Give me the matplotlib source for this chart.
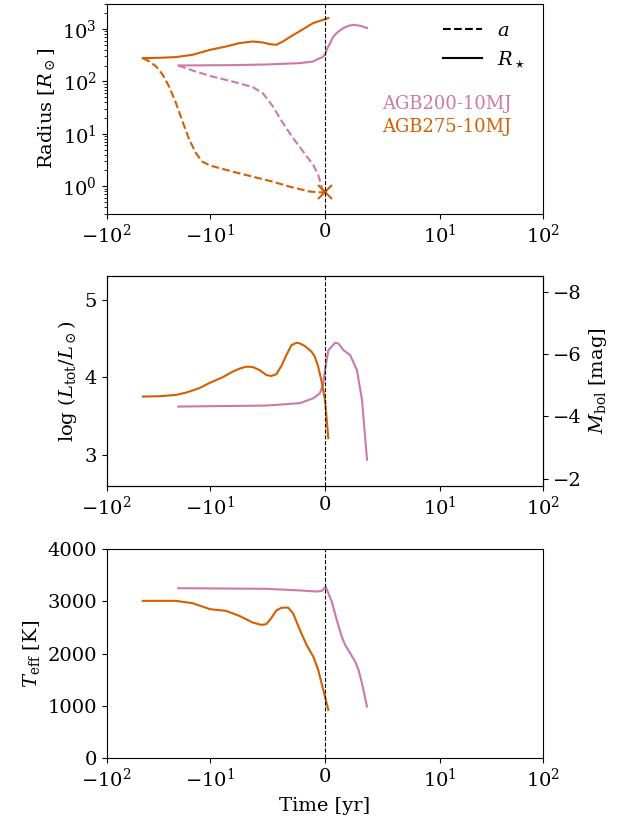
import numpy as np
import matplotlib
matplotlib.use('Agg')
import matplotlib.pyplot as plt
from matplotlib.lines import Line2D
from matplotlib.ticker import NullLocator

plt.rcParams['font.family'] = 'serif'
plt.rcParams['font.serif'] = ['DejaVu Serif']
plt.rcParams['mathtext.fontset'] = 'dejavuserif'
plt.rcParams['font.size'] = 14

pink = '#CC79A7'
orange = '#D55E00'
names = ['AGB200-10MJ', 'AGB275-10MJ']

# radius panel (time in yr, radius in Rsun)
t_rs_200 = [-20.3, -8.04, -5.11, -2.19, -1.02, -0.44, -0.29, 0.0, 0.15, 0.29, 0.59, 0.73, 1.17, 1.61,
            2.04, 2.48, 3.07, 3.66]
rs_200 = [202, 205, 211, 224, 241, 279, 285, 323, 402, 465, 625, 723, 901, 1046, 1157, 1205, 1157, 1046]
t_a_200 = [-20.3, -14.8, -9.8, -8.04, -6.29, -5.41, -4.53, -3.66, -2.78, -1.90, -1.02, -0.59, -0.29, -0.15]
a_200 = [202, 162, 124, 99.7, 78, 59.8, 33.2, 16, 8.3, 4.58, 2.55, 1.64, 0.98, 0.79]

t_rs_275 = [-44.8, -30.9, -21.4, -14.8, -10, -8.62, -7.46, -6.29, -5.41, -4.82, -4.24, -3.66, -3.07,
            -2.48, -1.90, -1.03, -0.15, 0.29]
rs_275 = [279, 283, 292, 323, 402, 465, 540, 580, 555, 517, 501, 580, 703, 839, 1000, 1303, 1506, 1622]
t_a_275 = [-44.8, -38.6, -33.3, -28.7, -24.8, -21.4, -18.5, -15.9, -13.7, -11.9, -10, -8.04, -6.29,
           -4.53, -3.07, -1.32, 0.0]
a_275 = [279, 241, 193, 134, 78, 38.5, 17.2, 7.7, 4.27, 2.95, 2.48, 1.90, 1.52, 1.22, 0.98, 0.79, 0.755]
merger_t, merger_r = 0.0, 0.77

# luminosity panel
t_L_200 = [-20.3, -10, -5.11, -2.19, -1.02, -0.44, -0.15, 0.0, 0.29, 0.88, 1.17, 1.61, 2.19, 2.78, 3.22, 3.66]
L_200 = [3.623, 3.628, 3.636, 3.667, 3.73, 3.795, 3.92, 4.09, 4.35, 4.444, 4.436, 4.35, 4.286, 4.094, 3.71, 2.94]
t_L_275 = [-44.8, -30.9, -21.4, -17.1, -12.8, -10, -8.92, -8.04, -7.46, -6.87, -6.29, -5.70, -5.11, -4.68,
           -4.24, -3.80, -3.36, -2.92, -2.48, -2.19, -1.75, -1.17, -0.88, -0.59, -0.29, 0.0, 0.29]
L_275 = [3.752, 3.756, 3.773, 3.803, 3.859, 3.931, 4.0, 4.073, 4.111, 4.137, 4.133, 4.094, 4.03, 4.017,
         4.039, 4.146, 4.287, 4.415, 4.445, 4.437, 4.403, 4.33, 4.266, 4.137, 3.944, 3.709, 3.216]

# effective temperature panel
t_T_200 = [-20.3, -5.11, -2.19, -0.73, -0.29, -0.09, 0.09, 0.29, 0.59, 1.02, 1.46, 1.75, 2.19, 2.63,
           2.92, 3.22, 3.66]
T_200 = [3248, 3236, 3205, 3184, 3197, 3241, 3261, 3153, 2993, 2643, 2324, 2165, 2007, 1846, 1688, 1433, 986]
t_T_275 = [-44.8, -21.4, -14.8, -10, -8.62, -7.46, -6.29, -5.55, -5.11, -4.68, -4.24, -3.80, -3.22,
           -2.78, -2.19, -1.61, -1.02, -0.59, -0.15, 0.29]
T_275 = [3006, 3006, 2962, 2847, 2815, 2720, 2592, 2548, 2561, 2675, 2822, 2873, 2879, 2771, 2452,
         2166, 1943, 1688, 1306, 924]

Msun = 4.74
lw = 1.5

fig, axs = plt.subplots(3, 1, figsize=(6.28, 8.22))
fig.subplots_adjust(left=0.170, right=0.865, top=0.995, bottom=0.0775, hspace=0.30)

ax = axs[0]
ax.plot(t_rs_200, rs_200, '-', color=pink, lw=lw)
ax.plot(t_a_200, a_200, '--', color=pink, lw=lw)
ax.plot(t_rs_275, rs_275, '-', color=orange, lw=lw)
ax.plot(t_a_275, a_275, '--', color=orange, lw=lw)
ax.plot(merger_t, merger_r, 'x', color=orange, ms=10, mew=1.5)
ax.set_yscale('log')
ax.set_ylim(0.3, 3000)
ax.set_ylabel(r'Radius [$R_\odot$]')
handles = [Line2D([], [], color='k', ls='--', lw=lw, label='$a$'),
           Line2D([], [], color='k', ls='-', lw=lw, label=r'$R_\star$')]
ax.legend(handles=handles, loc='upper right', frameon=False)
ax.text(0.779, 0.525, names[0], color=pink, fontsize=13, transform=ax.transAxes, ha='center', va='center')
ax.text(0.779, 0.413, names[1], color=orange, fontsize=13, transform=ax.transAxes, ha='center', va='center')

ax = axs[1]
ax.plot(t_L_200, L_200, '-', color=pink, lw=lw)
ax.plot(t_L_275, L_275, '-', color=orange, lw=lw)
ax.set_ylim(2.6, 5.3)
ax.set_yticks([3, 4, 5])
ax.set_ylabel(r'$\log\,(L_{\rm tot}/L_\odot)$')
ax2 = ax.twinx()
ax2.set_ylim(Msun - 2.5 * 2.6, Msun - 2.5 * 5.3)
ax2.set_yticks([-8, -6, -4, -2])
ax2.set_ylabel(r'$M_{\rm bol}$ [mag]')

ax = axs[2]
ax.plot(t_T_200, T_200, '-', color=pink, lw=lw)
ax.plot(t_T_275, T_275, '-', color=orange, lw=lw)
ax.set_ylim(0, 4000)
ax.set_ylabel(r'$T_{\rm eff}$ [K]')
ax.set_xlabel('Time [yr]')

for ax in axs:
    ax.set_xscale('symlog', linthresh=10)
    ax.set_xlim(-100, 100)
    ax.set_xticks([-100, -10, 0, 10, 100])
    ax.xaxis.set_minor_locator(NullLocator())
    ax.axvline(0, color='k', ls='--', lw=0.8)

fig.savefig('out.png', dpi=100)
